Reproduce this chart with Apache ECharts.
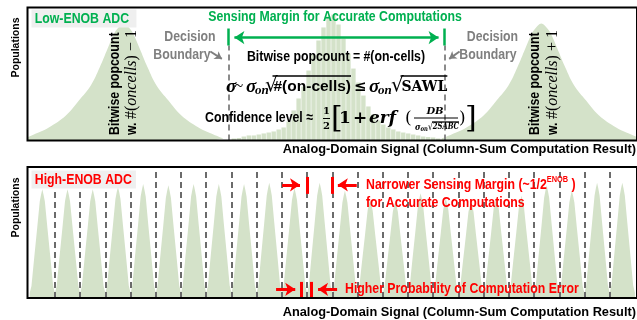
<!DOCTYPE html>
<html>
<head>
<meta charset="utf-8">
<script src="https://cdn.jsdelivr.net/npm/echarts@6/dist/echarts.min.js"></script>
<style>
  html, body { margin: 0; padding: 0; background: #ffffff; }
  #chart { width: 637px; height: 320px; }
</style>
</head>
<body>
<div id="chart"></div>
<script>
// ---------- Low-ENOB ADC panel (signal axis measured in popcount steps) ----------
// neighbouring populations (#on-cells - 1 and #on-cells + 1)
const lowPeakCenters = [-0.984, 0.947];
const lowPeakOffsets = [0, 0.028, 0.046, 0.074, 0.111, 0.152, 0.207, 0.267, 0.346, 0.415, 0.461];
const lowPeakLevels  = [0.880, 0.842, 0.797, 0.692, 0.549, 0.414, 0.301, 0.188, 0.098, 0.045, 0.015];
// histogram of the #on-cells population, one value per bin
const histogramLevels = [
  0.015, 0.019, 0.030, 0.038, 0.038, 0.045, 0.053, 0.060, 0.068, 0.083,
  0.098, 0.143, 0.226, 0.316, 0.406, 0.526, 0.647, 0.752, 0.850, 0.932,
  0.947, 0.872, 0.767, 0.654, 0.541, 0.436, 0.338, 0.256, 0.195, 0.150,
  0.120, 0.098, 0.083, 0.068, 0.060, 0.053, 0.045, 0.038, 0.030, 0.026,
  0.023, 0.015
];
const lowBoundaries = [-0.5, 0.5];

// ---------- High-ENOB ADC panel (signal axis measured in ADC codes) ----------
const highPeakHeights = [
  0.83, 0.83, 0.83, 0.85, 0.87, 0.86, 0.87, 0.87, 0.87, 0.88,
  0.84, 0.88, 0.82, 0.75, 0.74, 0.80, 0.76, 0.74, 0.77, 0.78,
  0.86, 0.82, 0.88, 0.88
];
const highPeakOffsets = [0, 0.05, 0.10, 0.20, 0.33, 0.43, 0.50];
const highPeakLevels  = [1.00, 0.95, 0.89, 0.65, 0.35, 0.11, 0.045];
const highBoundaries = [
  0.5, 1.5, 2.5, 3.5, 4.5, 5.5, 6.5, 7.5, 8.5, 9.5, 10.5, 11.5,
  12.5, 13.5, 14.5, 15.5, 16.5, 17.5, 18.5, 19.5, 20.5, 21.5, 22.5
];

const GREEN = '#00b050', RED = '#ff0000', GREY = '#7f7f7f', FILL = '#d4e2c9';
const SANS = '"Liberation Sans",Arial,sans-serif';
const SERIF = '"DejaVu Serif","Liberation Serif",serif';
const LSERIF = '"Liberation Serif","Times New Roman",serif';
const NARROW_X = 0.82;                       // condensed sans, drawn by squeezing the bold face
const sb = s => `bold ${s}px ${SANS}`;
const N = s => ({ f: sb(s), sx: NARROW_X });
const mbi = s => `italic bold ${s}px ${SERIF}`;
const mb = s => `bold ${s}px ${SERIF}`;
const mr = s => `${s}px ${SERIF}`;
const lbi = s => `italic bold ${s}px ${LSERIF}`;
const li = s => `italic ${s}px ${LSERIF}`;
const lr = s => `${s}px ${LSERIF}`;

function peakPoints(center, height, offsets, levels) {
  const pts = [];
  for (let i = offsets.length - 1; i > 0; i--) pts.push([center - offsets[i], height * levels[i]]);
  pts.push([center, height * levels[0]]);
  for (let i = 1; i < offsets.length; i++) pts.push([center + offsets[i], height * levels[i]]);
  return pts;
}

const highPoints = [];
highPeakHeights.forEach((h, k) => {
  peakPoints(k, h, highPeakOffsets, highPeakLevels).forEach(p => highPoints.push(p));
});

function areaSeries(xi, yi, data, smooth) {
  return {
    type: 'line', xAxisIndex: xi, yAxisIndex: yi, data, smooth,
    showSymbol: false, silent: true, z: 2,
    lineStyle: { width: 0 }, areaStyle: { color: FILL, opacity: 1 }
  };
}

function markSeries(xi, yi, lines, lineStyle, symbol, symbolSize) {
  return {
    type: 'line', xAxisIndex: xi, yAxisIndex: yi, data: [], silent: true, z: 4,
    markLine: {
      silent: true, animation: false, symbol: symbol || ['none', 'none'],
      symbolSize: symbolSize || 8, label: { show: false },
      lineStyle, emphasis: { disabled: true }, data: lines
    }
  };
}

// ---------- text layout helpers ----------
const ctx = document.createElement('canvas').getContext('2d');
function textWidth(font, t) { ctx.font = font; return ctx.measureText(t).width; }

// lays text pieces out left to right; optional fit squeezes the whole row to a width
function row(x0, cy, segs, fill, fit) {
  const els = []; let x = 0;
  segs.forEach(s => {
    if (s.at !== undefined) x = s.at - x0;
    const sx = s.sx || 1;
    const w = textWidth(s.f, s.t) * sx;
    const col = s.c || fill || '#000';
    els.push({ type: 'text', x, y: (s.dy || 0), scaleX: sx, z: 20,
      style: { text: s.t, font: s.f, fill: col, align: 'left', verticalAlign: 'middle' } });
    if (s.over !== undefined) {
      els.push({ type: 'line', z: 20, shape: { x1: x - 1, y1: s.over - cy, x2: x + w, y2: s.over - cy },
        style: { stroke: col, lineWidth: 1.3 } });
    }
    x += w + (s.after || 0);
  });
  const scale = fit ? fit / x : 1;
  return { type: 'group', x: x0, y: cy, scaleX: scale, z: 20, children: els };
}
function label(text, x, y, seg, fill, extra, rot) {
  return { type: 'text', x, y, z: 20, scaleX: seg.sx || 1, rotation: rot || 0,
    style: Object.assign({ text, font: seg.f, fill, align: 'center', verticalAlign: 'middle' }, extra || {}) };
}
function vertical(x, y, segs) {
  return { type: 'group', x, y, rotation: Math.PI / 2, z: 20, children: [row(0, 0, segs)] };
}

const graphics = [];
// axis titles
graphics.push(label('Populations', 16.5, 47.5, { f: sb(10.5) }, '#000', null, Math.PI / 2));
graphics.push(label('Populations', 16.5, 207.5, { f: sb(10.5) }, '#000', null, Math.PI / 2));
graphics.push(label('Analog-Domain Signal (Column-Sum Computation Result)', 636, 149.5, { f: sb(12.8) }, '#000', { align: 'right' }));
graphics.push(label('Analog-Domain Signal (Column-Sum Computation Result)', 636, 312, { f: sb(12.8) }, '#000', { align: 'right' }));

// panel tags
graphics.push({ type: 'text', x: 31.5, y: 18.5, z: 30, scaleX: NARROW_X,
  style: { text: 'Low-ENOB ADC', font: sb(15), fill: GREEN, align: 'left', verticalAlign: 'middle',
    backgroundColor: '#efefef', padding: [2, 9, 1, 4] } });
graphics.push({ type: 'text', x: 31.5, y: 179.5, z: 30, scaleX: NARROW_X,
  style: { text: 'High-ENOB ADC', font: sb(15), fill: RED, align: 'left', verticalAlign: 'middle',
    backgroundColor: '#efefef', padding: [2, 5, 1, 4] } });

// low-ENOB annotations
graphics.push(label('Sensing Margin for Accurate Computations', 335, 17, N(15), GREEN));
graphics.push(label('Decision', 190, 37, N(15), GREY));
graphics.push(label('Boundary', 182, 55, N(15), GREY));
graphics.push(label('Decision', 492.5, 37, N(15), GREY));
graphics.push(label('Boundary', 488, 55, N(15), GREY));
graphics.push(label('Bitwise popcount = #(on-cells)', 336, 57, N(15), '#000'));

graphics.push(row(226, 87, [
  { t: 'σ', f: lbi(19), at: 226 },
  { t: '~', f: lr(16), at: 234.5, dy: 0 },
  { t: 'σ', f: lbi(19), at: 246 },
  { t: 'on', f: lbi(13), at: 255, dy: 4 },
  { t: '√', f: mr(20), at: 265, dy: -1 },
  { t: '#(on-cells)', f: sb(15.5), at: 273.5, over: 76 },
  { t: '≤', f: mb(15), at: 354 },
  { t: 'σ', f: lbi(19), at: 369 },
  { t: 'on', f: lbi(13), at: 378, dy: 4 },
  { t: '√', f: mr(20), at: 391, dy: -1 },
  { t: 'SAWL', f: mb(14), at: 401.5, over: 76 }
], '#000'));

graphics.push(row(205, 118, [Object.assign({ t: 'Confidence level ≈' }, N(15))]));
graphics.push(label('1', 326.5, 111, { f: mb(10) }, '#000'));
graphics.push(label('2', 326.5, 126, { f: mb(10) }, '#000'));
graphics.push({ type: 'line', z: 20, shape: { x1: 323, y1: 118.5, x2: 330, y2: 118.5 }, style: { stroke: '#000', lineWidth: 1 } });
graphics.push({ type: 'text', x: 331, y: 119, z: 20, style: { text: '[', font: mr(30), fill: '#000', align: 'left', verticalAlign: 'middle' } });
graphics.push(row(339, 119, [
  { t: '1', f: mb(17) },
  { t: '+', f: mb(17), at: 353 },
  { t: 'erf', f: mbi(17), at: 369 },
  { t: '(', f: mr(17), at: 405 }
]));
graphics.push(label('DB', 435, 111, { f: mbi(10) }, '#000'));
graphics.push({ type: 'line', z: 20, shape: { x1: 414, y1: 118, x2: 458, y2: 118 }, style: { stroke: '#000', lineWidth: 1 } });
graphics.push(row(415, 127, [
  { t: 'σ', f: mbi(10) },
  { t: 'on', f: mbi(7), dy: 2 },
  { t: '√', f: mr(10) },
  { t: '2SABC', f: mbi(9), over: 122 }
], '#000', 44));
graphics.push({ type: 'text', x: 459, y: 119, z: 20, style: { text: ')', font: mr(17), fill: '#000', align: 'left', verticalAlign: 'middle' } });
graphics.push({ type: 'text', x: 465, y: 119, z: 20, style: { text: ']', font: mr(30), fill: '#000', align: 'left', verticalAlign: 'middle' } });

graphics.push(vertical(115, 135, [Object.assign({ t: 'Bitwise popcount' }, N(15))]));
graphics.push(vertical(132, 135, [
  Object.assign({ t: 'w. ' }, N(15)), { t: '#(', f: lr(16) }, { t: 'oncells', f: li(16) }, { t: ') − 1', f: lr(16) }
]));
graphics.push(vertical(535, 135, [Object.assign({ t: 'Bitwise popcount' }, N(15))]));
graphics.push(vertical(553, 135, [
  Object.assign({ t: 'w. ' }, N(15)), { t: '#(', f: lr(16) }, { t: 'oncells', f: li(16) }, { t: ') + 1', f: lr(16) }
]));

// high-ENOB annotations
graphics.push(row(366, 185, [
  Object.assign({ t: 'Narrower Sensing Margin (~1/2' }, N(15)),
  Object.assign({ t: 'ENOB', dy: -5 }, N(9)),
  Object.assign({ t: ' )' }, N(15))
], RED));
graphics.push(row(366, 203, [Object.assign({ t: 'for Accurate Computations' }, N(15))], RED));
graphics.push(row(345, 288.5, [Object.assign({ t: 'Higher Probability of Computation Error' }, N(15))], RED));

const chart = echarts.init(document.getElementById('chart'), null, { renderer: 'canvas' });
chart.setOption({
  animation: false,
  backgroundColor: '#ffffff',
  grid: [
    { left: 27.5, top: 7.5, width: 611.5, height: 133, show: true, borderColor: '#000', borderWidth: 2, backgroundColor: 'transparent', z: 10 },
    { left: 27.5, top: 167, width: 611.5, height: 131, show: true, borderColor: '#000', borderWidth: 2, backgroundColor: 'transparent', z: 10 }
  ],
  xAxis: [
    { gridIndex: 0, type: 'value', min: -1.4286, max: 1.3894, show: false },
    { gridIndex: 0, type: 'value', min: -41.4, max: 80.9, show: false },
    { gridIndex: 1, type: 'value', min: -0.587, max: 23.583, show: false }
  ],
  yAxis: [
    { gridIndex: 0, type: 'value', min: 0, max: 1, show: false },
    { gridIndex: 1, type: 'value', min: 0, max: 1, show: false }
  ],
  series: [
    areaSeries(0, 0, peakPoints(lowPeakCenters[0], 1, lowPeakOffsets, lowPeakLevels), 0.4),
    areaSeries(0, 0, peakPoints(lowPeakCenters[1], 1, lowPeakOffsets, lowPeakLevels), 0.4),
    {
      type: 'bar', xAxisIndex: 1, yAxisIndex: 0, barWidth: 4.4, silent: true, z: 2,
      itemStyle: { color: FILL },
      data: histogramLevels.map((v, i) => [i, v])
    },
    areaSeries(2, 1, highPoints, false),
    // decision boundaries, low-ENOB
    markSeries(0, 0, lowBoundaries.map(v => [{ coord: [v, 0] }, { coord: [v, 0.714] }]),
      { color: GREY, width: 1.8, type: [6, 4] }),
    // sensing margin arrow and its end bars
    markSeries(0, 0, lowBoundaries.map(v => [{ coord: [v, 0.714] }, { coord: [v, 0.842] }]),
      { color: GREEN, width: 2.5, type: 'solid' }),
    markSeries(0, 0, [[{ coord: [-0.472, 0.774] }, { coord: [0.472, 0.774] }]],
      { color: GREEN, width: 2.5, type: 'solid' }, ['arrow', 'arrow'], 10),
    // pointers from the "Decision Boundary" labels
    markSeries(0, 0, [
      [{ coord: [-0.583, 0.669] }, { coord: [-0.530, 0.614] }],
      [{ coord: [0.569, 0.669] }, { coord: [0.521, 0.614] }]
    ], { color: GREY, width: 2, type: 'solid' }, ['none', 'arrow'], 7),
    // decision boundaries, high-ENOB
    markSeries(2, 1, highBoundaries.map(v => ({ xAxis: v })),
      { color: '#6b6b6b', width: 2, type: [6, 4] }),
    // red margin bars
    markSeries(2, 1, [
      [{ coord: [10.5, 0.795] }, { coord: [10.5, 0.924] }],
      [{ coord: [11.5, 0.795] }, { coord: [11.5, 0.924] }],
      [{ coord: [10.27, 0.005] }, { coord: [10.27, 0.123] }],
      [{ coord: [10.67, 0.005] }, { coord: [10.67, 0.123] }]
    ], { color: RED, width: 3, type: 'solid' }),
    // red arrows
    markSeries(2, 1, [
      [{ coord: [9.51, 0.864] }, { coord: [10.22, 0.864] }],
      [{ coord: [12.47, 0.864] }, { coord: [11.72, 0.864] }],
      [{ coord: [9.27, 0.066] }, { coord: [10.03, 0.066] }],
      [{ coord: [11.69, 0.066] }, { coord: [10.935, 0.066] }]
    ], { color: RED, width: 3, type: 'solid' }, ['none', 'arrow'], 10)
  ],
  graphic: graphics
});
</script>
</body>
</html>
